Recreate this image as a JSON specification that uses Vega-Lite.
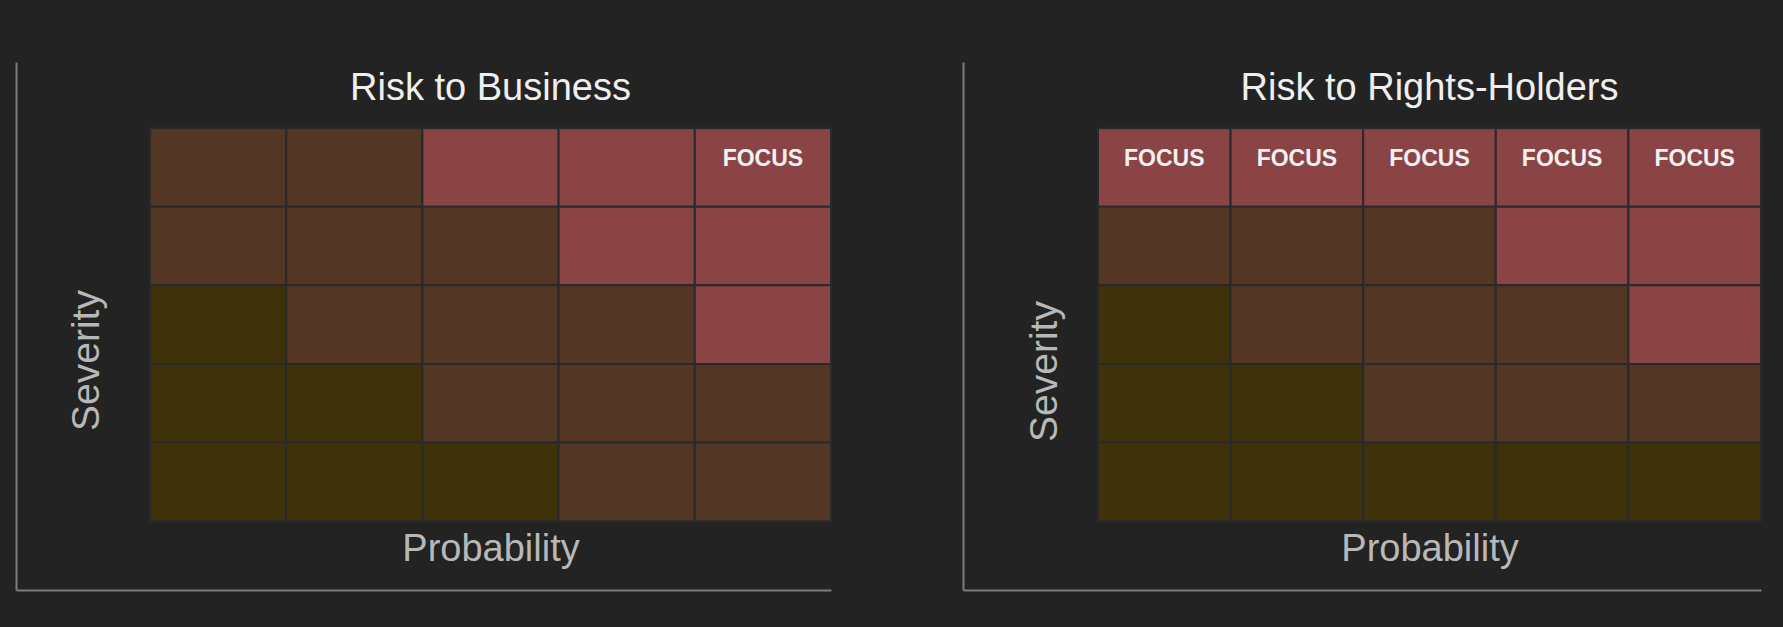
{
  "$schema": "https://vega.github.io/schema/vega-lite/v6.json",
  "background": "#232323",
  "padding": {"left": 16, "top": 62, "right": 23, "bottom": 37},
  "spacing": 131,
  "datasets": {
    "business": [
      {"p": 1, "s": 5, "level": "medium", "label": ""},
      {"p": 2, "s": 5, "level": "medium", "label": ""},
      {"p": 3, "s": 5, "level": "high", "label": ""},
      {"p": 4, "s": 5, "level": "high", "label": ""},
      {"p": 5, "s": 5, "level": "high", "label": "FOCUS"},
      {"p": 1, "s": 4, "level": "medium", "label": ""},
      {"p": 2, "s": 4, "level": "medium", "label": ""},
      {"p": 3, "s": 4, "level": "medium", "label": ""},
      {"p": 4, "s": 4, "level": "high", "label": ""},
      {"p": 5, "s": 4, "level": "high", "label": ""},
      {"p": 1, "s": 3, "level": "low", "label": ""},
      {"p": 2, "s": 3, "level": "medium", "label": ""},
      {"p": 3, "s": 3, "level": "medium", "label": ""},
      {"p": 4, "s": 3, "level": "medium", "label": ""},
      {"p": 5, "s": 3, "level": "high", "label": ""},
      {"p": 1, "s": 2, "level": "low", "label": ""},
      {"p": 2, "s": 2, "level": "low", "label": ""},
      {"p": 3, "s": 2, "level": "medium", "label": ""},
      {"p": 4, "s": 2, "level": "medium", "label": ""},
      {"p": 5, "s": 2, "level": "medium", "label": ""},
      {"p": 1, "s": 1, "level": "low", "label": ""},
      {"p": 2, "s": 1, "level": "low", "label": ""},
      {"p": 3, "s": 1, "level": "low", "label": ""},
      {"p": 4, "s": 1, "level": "medium", "label": ""},
      {"p": 5, "s": 1, "level": "medium", "label": ""}
    ],
    "rights": [
      {"p": 1, "s": 5, "level": "high", "label": "FOCUS"},
      {"p": 2, "s": 5, "level": "high", "label": "FOCUS"},
      {"p": 3, "s": 5, "level": "high", "label": "FOCUS"},
      {"p": 4, "s": 5, "level": "high", "label": "FOCUS"},
      {"p": 5, "s": 5, "level": "high", "label": "FOCUS"},
      {"p": 1, "s": 4, "level": "medium", "label": ""},
      {"p": 2, "s": 4, "level": "medium", "label": ""},
      {"p": 3, "s": 4, "level": "medium", "label": ""},
      {"p": 4, "s": 4, "level": "high", "label": ""},
      {"p": 5, "s": 4, "level": "high", "label": ""},
      {"p": 1, "s": 3, "level": "low", "label": ""},
      {"p": 2, "s": 3, "level": "medium", "label": ""},
      {"p": 3, "s": 3, "level": "medium", "label": ""},
      {"p": 4, "s": 3, "level": "medium", "label": ""},
      {"p": 5, "s": 3, "level": "high", "label": ""},
      {"p": 1, "s": 2, "level": "low", "label": ""},
      {"p": 2, "s": 2, "level": "low", "label": ""},
      {"p": 3, "s": 2, "level": "medium", "label": ""},
      {"p": 4, "s": 2, "level": "medium", "label": ""},
      {"p": 5, "s": 2, "level": "medium", "label": ""},
      {"p": 1, "s": 1, "level": "low", "label": ""},
      {"p": 2, "s": 1, "level": "low", "label": ""},
      {"p": 3, "s": 1, "level": "low", "label": ""},
      {"p": 4, "s": 1, "level": "low", "label": ""},
      {"p": 5, "s": 1, "level": "low", "label": ""}
    ]
  },
  "config": {
    "view": {"stroke": null},
    "font": "Liberation Sans",
    "title": {"font": "Liberation Sans", "fontSize": 38, "fontWeight": "normal", "color": "#efefef", "anchor": "middle", "frame": "group", "baseline": "alphabetic", "offset": 0}
  },
  "hconcat": [
    {
      "width": 815,
      "height": 528,
      "title": {"text": "Risk to Business", "dx": 67, "dy": 50},
      "data": {"name": "business"},
      "encoding": {
        "x": {"field": "p", "type": "ordinal", "sort": [1, 2, 3, 4, 5],
          "scale": {"paddingInner": 0, "paddingOuter": 0.492, "align": 1},
          "axis": {"title": "Probability", "labels": false, "ticks": false, "grid": false, "domainColor": "#7d7d7d", "domainWidth": 2, "titleFont": "Liberation Sans", "titleFontSize": 38, "titleFontWeight": "normal", "titleColor": "#b8b8b8", "titleX": 474.5, "titleY": -30, "titleAlign": "center", "titleBaseline": "alphabetic"}},
        "y": {"field": "s", "type": "ordinal", "sort": [5, 4, 3, 2, 1],
          "scale": {"paddingInner": 0, "paddingOuter": 0.859, "align": 0.49},
          "axis": {"title": "Severity", "labels": false, "ticks": false, "grid": false, "domainColor": "#7d7d7d", "domainWidth": 2, "titleFont": "Liberation Sans", "titleFontSize": 39, "titleFontWeight": "normal", "titleColor": "#b8b8b8", "titleX": 82, "titleY": 298, "titleAngle": -90, "titleAlign": "center", "titleBaseline": "alphabetic"}}
      },
      "layer": [
        {
          "mark": {"type": "rect", "stroke": "#2a2a2a", "strokeWidth": 2},
          "encoding": {
            "color": {"field": "level", "type": "nominal", "legend": null,
              "scale": {"domain": ["low", "medium", "high"], "range": ["#3f310a", "#533623", "#8b4446"]}}
          }
        },
        {
          "mark": {"type": "text", "font": "Liberation Sans", "fontSize": 23, "fontWeight": "bold", "color": "#f2f2f2", "baseline": "alphabetic", "dy": -1},
          "encoding": {"text": {"field": "label"}}
        }
      ]
    },
    {
      "width": 798,
      "height": 528,
      "title": {"text": "Risk to Rights-Holders", "dx": 67.5, "dy": 50},
      "data": {"name": "rights"},
      "encoding": {
        "x": {"field": "p", "type": "ordinal", "sort": [1, 2, 3, 4, 5],
          "scale": {"paddingInner": 0, "paddingOuter": 0.509, "align": 1},
          "axis": {"title": "Probability", "labels": false, "ticks": false, "grid": false, "domainColor": "#7d7d7d", "domainWidth": 2, "titleFont": "Liberation Sans", "titleFontSize": 38, "titleFontWeight": "normal", "titleColor": "#b8b8b8", "titleX": 466.5, "titleY": -30, "titleAlign": "center", "titleBaseline": "alphabetic"}},
        "y": {"field": "s", "type": "ordinal", "sort": [5, 4, 3, 2, 1],
          "scale": {"paddingInner": 0, "paddingOuter": 0.859, "align": 0.49},
          "axis": {"title": "Severity", "labels": false, "ticks": false, "grid": false, "domainColor": "#7d7d7d", "domainWidth": 2, "titleFont": "Liberation Sans", "titleFontSize": 39, "titleFontWeight": "normal", "titleColor": "#b8b8b8", "titleX": 93, "titleY": 309, "titleAngle": -90, "titleAlign": "center", "titleBaseline": "alphabetic"}}
      },
      "layer": [
        {
          "mark": {"type": "rect", "stroke": "#2a2a2a", "strokeWidth": 2},
          "encoding": {
            "color": {"field": "level", "type": "nominal", "legend": null,
              "scale": {"domain": ["low", "medium", "high"], "range": ["#3f310a", "#533623", "#8b4446"]}}
          }
        },
        {
          "mark": {"type": "text", "font": "Liberation Sans", "fontSize": 23, "fontWeight": "bold", "color": "#f2f2f2", "baseline": "alphabetic", "dy": -1},
          "encoding": {"text": {"field": "label"}}
        }
      ]
    }
  ]
}
